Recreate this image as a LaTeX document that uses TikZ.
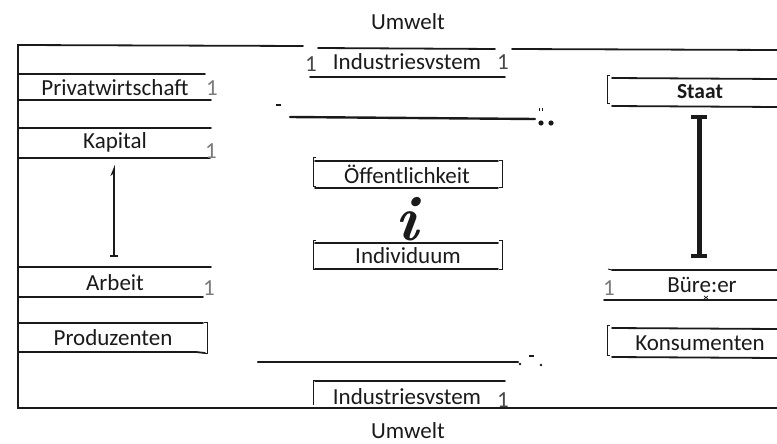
\documentclass[tikz,border=0pt]{standalone}
\usepackage{fontspec}
\setmainfont{Carlito}
\usetikzlibrary{arrows.meta}
\definecolor{ink}{HTML}{1A1A1A}
\definecolor{faint}{HTML}{7A7A7A}
\begin{document}
\begin{tikzpicture}[x=1pt,y=-1pt,
  rule/.style={line width=1.8pt,draw=ink,line cap=round},
  thin/.style={line width=0.9pt,draw=ink},
  lbl/.style={inner sep=0pt,text=ink,font=\fontsize{23}{26}\selectfont},
  num/.style={inner sep=0pt,text=faint,font=\fontsize{23}{26}\selectfont},
  lbracket/.style={thin},
]
\useasboundingbox[fill=white] (0,0) rectangle (777,444);

% environment labels
\node[lbl] (uTop) at (408,22) {Umwelt};
\node[lbl] (uBot) at (408,431) {Umwelt};

% outer frame
\draw[rule] (303,46) -- (18,45) -- (18,408) -- (777,408);
\draw[rule] (512,49) -- (777,50);

% industrial system, top
\draw[rule] (318,48) -- (495,49);
\draw[rule] (310,77) -- (505,77);
\node[lbl] (indTop) at (407,62) {Industriesvstem};
\node[num,text=ink!80] (indTopL) at (311,64) {1};
\node[num,text=ink!80] (indTopR) at (503,62) {1};

% upper transfer line
\draw[thin,line width=1.2pt] (276,105) -- (281,105);
\draw[rule,line width=2.4pt] (290,117) -- (535,119);
\fill[ink] (541,123) circle (2.6pt) (551,123) circle (2.6pt);
\draw[thin,line width=0.6pt] (539,108) -- (539,111) (542,108) -- (542,111);

% left column
\draw[rule] (18,74) -- (205,74);
\draw[rule] (18,100) -- (211,100);
\node[lbl] (priv) at (115,88) {Privatwirtschaft};
\node[num] (privN) at (212,88) {1};

\draw[rule] (18,128) -- (211,128);
\draw[rule] (18,158) -- (210,158);
\node[lbl] (kap) at (115,142) {Kapital};
\node[num] (kapN) at (211,151) {1};
\coordinate (kapFoot) at (114,165);

\draw[rule] (18,267) -- (211,267);
\draw[rule] (18,297) -- (203,297);
\node[lbl] (arb) at (115,283) {Arbeit};
\node[num] (arbN) at (209,288) {1};
\coordinate (arbHead) at (114,257);

\draw[line width=2pt,draw=ink,{Bar[width=8pt,line width=2pt]}-{Stealth[left,length=9pt,width=7pt]}]
  (arbHead) -- (kapFoot);

\draw[rule] (18,323) -- (203,323);
\draw[rule] (18,352) -- (196,352) -- (205,353);
\node[lbl] (prod) at (113,338) {Produzenten};
\draw[lbracket] (204,322) -- (207,322) -- (207,353) -- (204,353);

% centre column
\draw[rule] (315,161) -- (498,161);
\draw[rule] (315,188) -- (498,188);
\draw[lbracket] (316,157) -- (313,157) -- (313,186) -- (316,186);
\draw[lbracket] (499,160) -- (502,160) -- (502,187) -- (499,187);
\node[lbl] (oeff) at (407,174) {Öffentlichkeit};

\node[inner sep=0pt,text=ink,font=\fontspec{Latin Modern Roman}\fontsize{64}{64}\selectfont\bfseries\itshape] (ind) at (407,219) {i};

\draw[rule] (315,243) -- (498,243);
\draw[rule] (315,269) -- (498,269);
\draw[lbracket] (316,240) -- (313,240) -- (313,269) -- (316,269);
\draw[lbracket] (499,240) -- (502,240) -- (502,269) -- (499,269);
\node[lbl] (indiv) at (408,256) {Individuum};

% right column
\draw[rule] (612,78) -- (777,79);
\draw[rule] (612,106) -- (777,107);
\draw[lbracket] (610,75) -- (607,75) -- (607,103) -- (610,103);
\node[lbl,font=\fontsize{21.5}{24}\selectfont\bfseries] (staat) at (700,92) {Staat};
\coordinate (staatFoot) at (699,115);

\draw[rule] (612,270) -- (777,270);
\draw[thin] (608,269) -- (612,270);
\draw[rule] (604,300) -- (777,300);
\node[lbl] (buerger) at (702,285) {Büre:er};
\node[num] (buergerN) at (609,288) {1};
\coordinate (buergerHead) at (699,258);
\draw[thin,line width=0.7pt] (704,296) -- (708,299) (708,296) -- (704,299);

\draw[line width=5pt,draw=ink,{Bar[width=16pt,line width=4pt]}-{Bar[width=16pt,line width=4pt]}]
  (buergerHead) -- (staatFoot);

\draw[rule] (612,328) -- (777,329);
\draw[rule] (612,357) -- (777,358);
\draw[lbracket] (610,325) -- (607,325) -- (607,355) -- (610,355);
\node[lbl] (kons) at (700,343) {Konsumenten};

% lower transfer line
\draw[rule,line width=2.2pt] (258,362) -- (518,362);
\draw[thin,line width=1.2pt] (529,356) -- (534,356);
\fill[ink] (520,364) circle (1.4pt) (541,365) circle (1.4pt);

% industrial system, bottom
\draw[rule] (315,381) -- (505,381);
\draw[lbracket] (316,380) -- (313,380) -- (313,405);
\node[lbl] (indBot) at (407,397) {Industriesvstem};
\node[num,text=ink!80] (indBotN) at (503,400) {1};
\end{tikzpicture}
\end{document}
